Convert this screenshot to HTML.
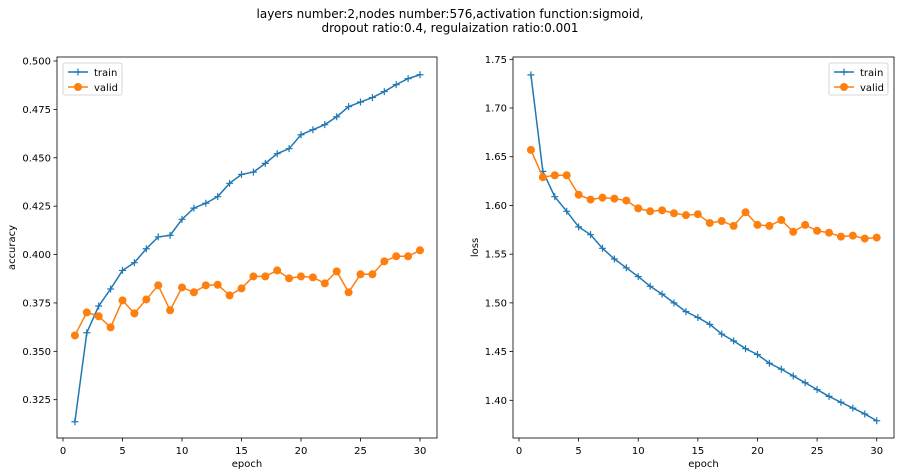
<!DOCTYPE html>
<html><head><meta charset="utf-8"><style>
html,body{margin:0;padding:0;background:#fff;}
svg{display:block;font-family:"DejaVu Sans","Liberation Sans",sans-serif;}
</style></head><body>
<svg id="fig" width="900" height="476" viewBox="0 0 900 476">
<text x="450" y="18" text-anchor="middle" font-size="12" fill="#000">layers number:2,nodes number:576,activation function:sigmoid,</text>
<text x="450" y="32" text-anchor="middle" font-size="12" fill="#000">dropout ratio:0.4, regulaization ratio:0.001</text>
</svg>
<script>
const epochs = [1,2,3,4,5,6,7,8,9,10,11,12,13,14,15,16,17,18,19,20,21,22,23,24,25,26,27,28,29,30];
const accTrain = [0.3136,0.3596,0.3734,0.3822,0.3918,0.3958,0.4030,0.4091,0.4099,0.4182,0.4240,0.4265,0.4299,0.4368,0.4414,0.4426,0.4471,0.4521,0.4547,0.4619,0.4645,0.4671,0.4712,0.4764,0.4788,0.4811,0.4842,0.4878,0.4909,0.4929];
const accValid = [0.3582,0.3701,0.3681,0.3624,0.3763,0.3696,0.3768,0.3841,0.3712,0.3830,0.3805,0.3841,0.3844,0.3789,0.3825,0.3887,0.3887,0.3918,0.3877,0.3887,0.3882,0.3851,0.3913,0.3805,0.3898,0.3898,0.3965,0.3991,0.3991,0.4022];
const lossTrain = [1.734,1.635,1.609,1.594,1.578,1.570,1.556,1.545,1.536,1.527,1.517,1.509,1.500,1.491,1.485,1.478,1.468,1.461,1.453,1.447,1.438,1.432,1.425,1.418,1.411,1.404,1.398,1.392,1.386,1.379];
const lossValid = [1.657,1.629,1.631,1.631,1.611,1.606,1.608,1.607,1.605,1.597,1.594,1.595,1.592,1.590,1.591,1.582,1.584,1.579,1.593,1.580,1.579,1.585,1.573,1.580,1.574,1.572,1.568,1.569,1.566,1.567];
const xTicks = [0,5,10,15,20,25,30];
const accTicks = [0.325,0.350,0.375,0.400,0.425,0.450,0.475,0.500];
const lossTicks = [1.40,1.45,1.50,1.55,1.60,1.65,1.70,1.75];

const NS="http://www.w3.org/2000/svg";
const svg=document.getElementById('fig');
function mk(tag,attrs,parent){const e=document.createElementNS(NS,tag);for(const k in attrs)e.setAttribute(k,attrs[k]);(parent||svg).appendChild(e);return e;}

function panel(cfg){
  const g=mk('g',{});
  
  
  const L=cfg.left,R=cfg.right,T=57,B=438;
  const xs=v=>cfg.x0+(v-0)*(cfg.x30-cfg.x0)/30;
  const ys=v=>cfg.yTop+(cfg.vTop-v)*(cfg.yBot-cfg.yTop)/(cfg.vTop-cfg.vBot);
  xTicks.forEach(t=>{
    const x=xs(t);
    const tl=mk('line',{x1:x,x2:x,y1:B,y2:B+3.5,stroke:'#000','stroke-width':0.8},g);
    
    
    const tx=mk('text',{x:x,y:B+16,'text-anchor':'middle','font-size':10,fill:'#000'},g);
    tx.textContent=t;
    
    
  });
  cfg.ticks.forEach(t=>{
    const y=ys(t);
    const tl=mk('line',{x1:L-3.5,x2:L,y1:y,y2:y,stroke:'#000','stroke-width':0.8},g);
    
    
    const tx=mk('text',{x:L-6,y:y+3.5,'text-anchor':'end','font-size':10,fill:'#000'},g);
    tx.textContent=t.toFixed(cfg.dec);
    
    
  });
  const xl=mk('text',{x:(L+R)/2,y:467,'text-anchor':'middle','font-size':10,fill:'#000'},g);
  xl.textContent='epoch';
  
  
  const yl=mk('text',{x:0,y:0,'text-anchor':'middle','font-size':10,fill:'#000',transform:`translate(${cfg.ylx},${(T+B)/2}) rotate(-90)`},g);
  yl.textContent=cfg.ylabel;
  
  
  // series
  const tp=cfg.train.map((v,i)=>[xs(epochs[i]),ys(v)]);
  const vp=cfg.valid.map((v,i)=>[xs(epochs[i]),ys(v)]);
  const tl=mk('polyline',{points:tp.map(p=>p.join(',')).join(' '),fill:'none',stroke:'#1f77b4','stroke-width':1.5},g);
  
  
  tp.forEach(p=>{
    const m=mk('path',{d:`M${p[0]-3.5},${p[1]}h7M${p[0]},${p[1]-3.5}v7`,stroke:'#1f77b4','stroke-width':1.2},g);
    
    
  });
  const vl=mk('polyline',{points:vp.map(p=>p.join(',')).join(' '),fill:'none',stroke:'#ff7f0e','stroke-width':1.5},g);
  
  
  vp.forEach(p=>{
    const m=mk('circle',{cx:p[0],cy:p[1],r:4,fill:'#ff7f0e'},g);
    
    
  });
  const fr=mk('rect',{x:L,y:T,width:R-L,height:B-T,fill:'none',stroke:'#000','stroke-width':0.8},g);
  
  
  // legend
  const lx=cfg.legX,ly=63;
  const lg=mk('g',{},g);
  
  
  mk('rect',{x:lx,y:ly,width:59,height:32,rx:2,fill:'#fff',stroke:'#ccc','stroke-width':0.8},lg);
  const e1=mk('g',{},lg);
  
  
  mk('line',{x1:lx+5,x2:lx+25,y1:ly+9,y2:ly+9,stroke:'#1f77b4','stroke-width':1.5},e1);
  mk('path',{d:`M${lx+11.5},${ly+9}h7M${lx+15},${ly+5.5}v7`,stroke:'#1f77b4','stroke-width':1.2},e1);
  const t1=mk('text',{x:lx+31,y:ly+13,'font-size':10,fill:'#000'},e1);t1.textContent='train';
  const e2=mk('g',{},lg);
  
  
  mk('line',{x1:lx+5,x2:lx+25,y1:ly+24,y2:ly+24,stroke:'#ff7f0e','stroke-width':1.5},e2);
  mk('circle',{cx:lx+15,cy:ly+24,r:4,fill:'#ff7f0e'},e2);
  const t2=mk('text',{x:lx+31,y:ly+28,'font-size':10,fill:'#000'},e2);t2.textContent='valid';
}
panel({name:'accuracy-chart',left:57,right:437,x0:63,x30:420,yTop:61,yBot:399.7,vTop:0.5,vBot:0.325,ticks:accTicks,dec:3,ylabel:'accuracy',ylx:15,train:accTrain,valid:accValid,legX:63});
panel({name:'loss-chart',left:513,right:894,x0:519,x30:876.7,yTop:59.3,yBot:400.3,vTop:1.75,vBot:1.40,ticks:lossTicks,dec:2,ylabel:'loss',ylx:478,train:lossTrain,valid:lossValid,legX:829});
</script>
</body></html>
